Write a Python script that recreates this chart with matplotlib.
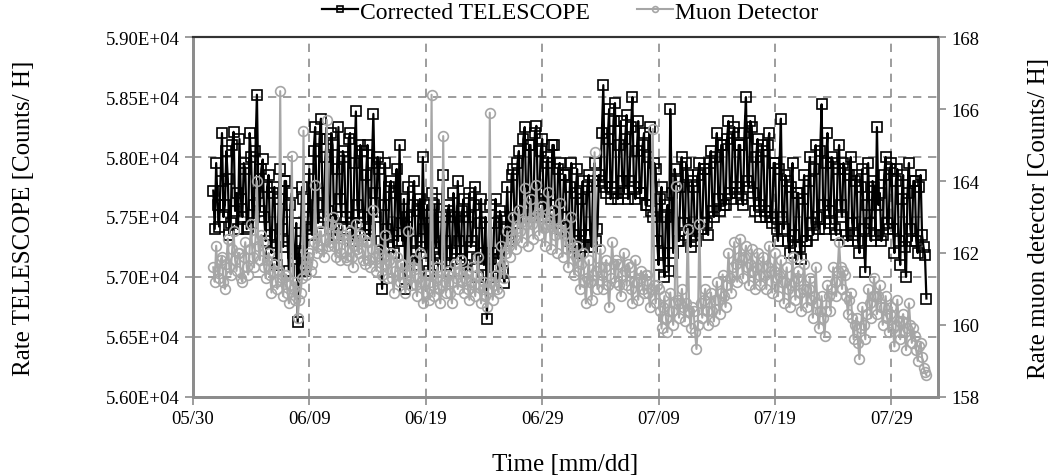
import matplotlib
matplotlib.use("Agg")
import matplotlib.pyplot as plt
import matplotlib.dates as mdates
import numpy as np
import pandas as pd

plt.rcParams['font.family'] = ['Liberation Serif', 'DejaVu Serif']

# samples every 3 h, from 05/31 18:00 to 08/01 00:00
t0 = "2014-05-31 18:00"
step = "3h"

# corrected telescope rate [counts/h], one row per day (00h ... 21h)
tel_may = [57720, 57400]
tel_jun = [
    57950, 57600, 57420, 57800, 58200, 57500, 57600, 58050,
    57820, 57350, 57450, 58100, 58210, 57550, 57700, 57400,
    58150, 57650, 57500, 57950, 57900, 57400, 57420, 58200,
    58000, 57450, 57600, 58050, 58520, 57700, 57550, 57900,
    57980, 57500, 57300, 57750, 57850, 57350, 57200, 57700,
    57750, 57250, 57100, 57650, 57900, 57400, 57250, 57800,
    57800, 57300, 57050, 57600, 57700, 57200, 57150, 57450,
    56620, 57200, 57300, 57750, 57650, 57050, 57100, 57500,
    57900, 57400, 57350, 58050, 58250, 57600, 57450, 58150,
    58320, 57700, 57500, 58000, 58150, 57550, 57400, 58200,
    58100, 57450, 57350, 57900, 58250, 57650, 57500, 58050,
    58000, 57500, 57400, 58150, 58200, 57450, 57300, 57950,
    58380, 57600, 57450, 58100, 58050, 57500, 57350, 57850,
    58100, 57350, 57400, 57950, 58360, 57700, 57500, 58000,
    57900, 57300, 56900, 57600, 57950, 57400, 57250, 57750,
    57800, 57350, 57200, 57700, 57900, 57300, 58100, 57450,
    57300, 57650, 56900, 57500, 57750, 57150, 57200, 57600,
    57800, 57300, 57100, 57550, 57650, 57250, 58000, 57400,
    57200, 57600, 57050, 57450, 57700, 57100, 57600, 57250,
    57650, 57200, 57150, 57500, 57850, 57300, 57100, 57550,
    57600, 57050, 57200, 57700, 57500, 57150, 57800, 57300,
    57150, 57550, 57650, 57100, 57050, 57500, 57700, 57250,
    57300, 57600, 57750, 57150, 57000, 57450, 57650, 57200,
    57100, 57500, 56650, 57200, 57600, 57150, 57000, 57450,
    57650, 57200, 57150, 57550, 57500, 57050, 56950, 57400,
    57750, 57300, 57350, 57850, 57900, 57500, 57450, 57950,
    58050, 57550, 57500, 58150, 58250, 57650, 57600, 58100,
    58100, 57500, 57550, 58200, 58260, 57700, 57650, 58050,
    58150, 57600, 57500, 57950, 58000, 57550, 57600, 58100,
    58100, 57550, 57450, 57900, 57950, 57400, 57500, 57850,
]
tel_jul = [
    57850, 57400, 57300, 57750, 57950, 57350, 57250, 57700,
    57900, 57300, 57200, 57650, 57800, 57250, 57350, 57750,
    57850, 57350, 57250, 57800, 57950, 57300, 57400, 57850,
    57800, 58200, 58600, 57750, 57700, 58150, 58400, 57650,
    57750, 58300, 58450, 57700, 57650, 58100, 58300, 57800,
    57700, 58150, 58350, 57650, 57800, 58250, 58500, 57750,
    57650, 58050, 58300, 57700, 57700, 58100, 58200, 57600,
    57600, 58000, 58250, 57550, 57500, 57950, 57900, 57300,
    57100, 57650, 57750, 57200, 57000, 57500, 57600, 57050,
    58400, 57700, 57200, 57900, 57800, 57300, 57300, 57750,
    58000, 57450, 57350, 57950, 57850, 57400, 57250, 57800,
    57750, 57350, 57300, 57850, 57950, 57400, 57400, 57900,
    57900, 57450, 57350, 57950, 58050, 57550, 57500, 58000,
    58200, 57650, 57550, 58100, 58100, 57600, 57600, 58150,
    58300, 57700, 57650, 58200, 58250, 57750, 57700, 58100,
    58100, 57650, 57600, 58200, 58500, 57800, 57750, 58300,
    58250, 57700, 57550, 58000, 58150, 57600, 57500, 58100,
    58050, 57550, 57500, 58100, 58200, 57500, 57450, 57950,
    57950, 57400, 57300, 57900, 58320, 57500, 57400, 57850,
    57800, 57300, 57200, 57750, 57950, 57350, 57250, 57700,
    57700, 57250, 57150, 57650, 57850, 57300, 57300, 57800,
    58000, 57450, 57350, 57900, 58100, 57500, 57400, 58050,
    58440, 57600, 57400, 57950, 58200, 57550, 57450, 58000,
    57950, 57400, 57350, 57900, 58100, 57600, 57500, 57950,
    57900, 57350, 57300, 57850, 58000, 57450, 57350, 57800,
    57850, 57300, 57200, 57750, 57900, 57400, 57040, 57600,
    57950, 57450, 57300, 57800, 57750, 57350, 58250, 57600,
    57700, 57300, 57350, 57850, 58000, 57450, 57400, 57900,
    57950, 57400, 57200, 57800, 57900, 57300, 57100, 57650,
    57850, 57250, 57000, 57700, 57950, 57400, 57300, 57800,
    57800, 57300, 57200, 57750, 57850, 57350, 57250, 57180,
]
tel_aug = [56820]

# muon detector rate [counts/h], same time steps
muon_may = [161.6, 161.2]
muon_jun = [
    162.2, 161.5, 161.3, 161.8, 161.9, 161.2, 161.0, 161.7,
    162.4, 161.6, 161.4, 162.1, 162.6, 161.8, 161.5, 162.0,
    162.0, 161.3, 161.2, 161.9, 162.3, 161.6, 161.4, 162.1,
    162.8, 161.9, 161.6, 162.4, 164.0, 162.2, 161.8, 162.5,
    162.3, 161.6, 161.3, 161.8, 162.0, 161.4, 160.9, 161.5,
    161.7, 161.2, 161.0, 161.5, 166.5, 161.3, 160.8, 161.4,
    161.4, 160.9, 160.6, 161.1, 164.7, 161.0, 160.7, 161.2,
    160.2, 160.7, 160.9, 161.3, 165.4, 161.6, 161.4, 161.9,
    162.0, 161.5, 161.7, 162.3, 163.9, 162.0, 162.2, 162.6,
    162.6, 162.1, 161.9, 162.4, 165.7, 162.2, 162.3, 162.8,
    163.0, 162.2, 161.9, 162.5, 162.7, 161.8, 162.0, 162.4,
    162.5, 161.9, 161.8, 162.3, 162.6, 161.9, 161.6, 162.2,
    162.8, 162.1, 162.0, 162.5, 162.4, 161.8, 161.7, 162.3,
    162.3, 161.8, 161.6, 162.1, 163.2, 161.9, 161.5, 162.0,
    162.1, 161.6, 161.4, 161.9, 162.5, 161.7, 161.3, 161.8,
    162.0, 161.3, 160.9, 161.5, 161.9, 161.4, 161.2, 161.7,
    161.7, 161.2, 160.9, 161.4, 162.6, 161.5, 161.1, 161.6,
    161.8, 161.1, 160.8, 161.3, 162.0, 161.2, 160.6, 161.2,
    161.4, 160.9, 160.7, 161.2, 166.4, 161.1, 160.8, 161.3,
    161.6, 161.0, 160.6, 161.1, 165.25, 161.2, 160.9, 161.4,
    161.5, 160.9, 160.6, 161.2, 161.7, 161.3, 161.0, 161.5,
    161.8, 161.2, 160.9, 161.3, 161.5, 161.0, 160.7, 161.2,
    161.6, 161.1, 160.8, 161.4, 161.9, 161.1, 160.6, 161.0,
    161.2, 160.8, 160.5, 161.0, 165.9, 161.2, 160.7, 161.1,
    161.4, 161.0, 160.9, 161.6, 162.2, 161.7, 161.3, 162.0,
    162.6, 162.2, 161.9, 162.5, 163.0, 162.4, 162.1, 162.7,
    163.2, 162.6, 162.3, 162.9, 163.8, 162.8, 162.2, 162.9,
    163.5, 162.8, 162.4, 163.0, 163.9, 163.1, 162.5, 163.0,
    163.3, 162.7, 162.2, 162.8, 163.7, 162.9, 162.1, 162.7,
    163.2, 162.5, 162.0, 162.7, 163.4, 162.6, 161.9, 162.5,
]
muon_jul = [
    162.8, 162.1, 161.6, 162.3, 163.0, 162.0, 161.4, 161.9,
    162.2, 161.5, 161.0, 161.7, 162.0, 161.2, 160.6, 161.3,
    161.8, 161.2, 160.7, 161.4, 164.8, 161.5, 161.0, 161.6,
    162.1, 161.4, 161.0, 161.6, 161.8, 161.1, 160.5, 161.3,
    162.3, 161.7, 161.2, 161.8, 161.7, 161.1, 160.8, 161.4,
    162.0, 161.5, 161.1, 161.7, 161.6, 161.0, 160.6, 161.2,
    161.8, 161.2, 160.7, 161.3, 161.5, 161.0, 160.9, 161.4,
    161.4, 160.9, 160.5, 161.0, 165.45, 161.1, 160.6, 161.1,
    161.0, 160.4, 159.9, 160.5, 160.8, 160.2, 159.8, 160.4,
    160.9, 160.4, 160.0, 160.6, 163.86, 160.7, 160.2, 160.6,
    161.0, 160.5, 160.1, 160.6, 162.67, 160.4, 159.9, 160.5,
    160.4, 159.8, 159.33, 160.0, 162.8, 160.6, 160.2, 160.7,
    161.0, 160.4, 160.0, 160.6, 160.9, 160.4, 160.1, 160.7,
    161.2, 160.7, 160.3, 160.9, 161.4, 160.8, 160.5, 161.1,
    162.0, 161.3, 160.9, 161.6, 162.3, 161.7, 161.2, 161.9,
    162.4, 161.8, 161.3, 161.9, 162.2, 161.6, 161.1, 161.7,
    162.1, 161.5, 161.0, 161.6, 162.0, 161.4, 161.1, 161.6,
    161.9, 161.4, 161.0, 161.6, 162.2, 161.5, 160.9, 161.5,
    162.0, 161.3, 160.8, 161.4, 161.8, 161.2, 160.6, 161.2,
    161.6, 161.0, 160.5, 161.1, 161.9, 161.2, 160.7, 161.3,
    161.5, 160.9, 160.4, 161.0, 161.7, 161.0, 160.5, 161.0,
    161.3, 160.7, 160.2, 160.8, 161.6, 160.6, 159.9, 160.4,
    160.8, 160.2, 159.7, 160.4, 161.1, 160.8, 160.4, 161.0,
    161.6, 161.2, 160.8, 161.5, 162.3, 161.6, 161.0, 161.5,
    161.4, 160.8, 160.3, 160.7, 160.9, 160.2, 159.6, 160.0,
    160.2, 159.5, 159.05, 159.9, 160.5, 160.0, 159.6, 160.3,
    161.0, 160.6, 160.2, 160.8, 161.3, 160.8, 160.3, 160.8,
    161.1, 160.5, 160.0, 160.5, 160.8, 160.2, 159.8, 160.3,
    160.5, 159.9, 159.4, 160.0, 160.7, 160.1, 159.6, 160.1,
    160.3, 159.8, 159.3, 159.9, 160.6, 160.0, 159.5, 159.9,
    159.7, 159.3, 159.0, 159.4, 159.5, 159.1, 158.8, 158.7,
]
muon_aug = [158.6]

telescope = np.array(tel_may + tel_jun + tel_jul + tel_aug, dtype=float)
muon = np.array(muon_may + muon_jun + muon_jul + muon_aug)
times = pd.date_range(t0, periods=len(telescope), freq=step)

date_ticks = pd.date_range("2014-05-30", periods=7, freq="10D")
grey = "#a6a6a6"
axis_grey = "#8c8c8c"

fig = plt.figure(figsize=(10.54, 4.77), dpi=100)
ax = fig.add_axes([0.183, 0.166, 0.707, 0.754])
ax2 = ax.twinx()

l1, = ax.plot(times, telescope, color="black", lw=1.6, marker="s", ms=6.5,
              mfc="none", mec="black", mew=1.2, label="Corrected TELESCOPE")
l2, = ax2.plot(times, muon, color=grey, lw=1.5, marker="o", ms=7,
               mfc="none", mec=grey, mew=1.2, label="Muon Detector")

ax.set_ylim(56000, 59000)
ax.set_yticks(np.arange(56000, 59001, 500))
ax.set_yticklabels([f"{v:.2E}" for v in np.arange(56000, 59001, 500)])
ax2.set_ylim(158, 168)
ax2.set_yticks(np.arange(158, 169, 2))

ax.set_xlim(pd.Timestamp("2014-05-30"), pd.Timestamp("2014-08-02"))
ax.set_xticks(date_ticks)
ax.xaxis.set_major_formatter(mdates.DateFormatter("%m/%d"))

ax.grid(True, ls=(0, (5, 4)), color=axis_grey, lw=1.2)
ax.set_axisbelow(True)

for a in (ax, ax2):
    for side in ("left", "right", "bottom"):
        a.spines[side].set_color(axis_grey)
        a.spines[side].set_linewidth(2)
    a.spines["top"].set_color("#333333")
    a.spines["top"].set_linewidth(1.5)
    a.tick_params(direction="out", length=6, color=axis_grey, width=1.2, labelsize=13.5)

ax.set_xlabel("Time [mm/dd]", fontsize=18)
ax.set_ylabel("Rate TELESCOPE [Counts/ H]", fontsize=18)
ax2.set_ylabel("Rate muon detector [Counts/ H]", fontsize=18)
ax.xaxis.set_label_coords(0.5, -0.155)
ax.yaxis.set_label_coords(-0.212, 0.5)
ax2.yaxis.set_label_coords(1.121, 0.5)

fig.legend([l1, l2], ["Corrected TELESCOPE", "Muon Detector"], loc="center",
           bbox_to_anchor=(0.541, 0.973), ncol=2, frameon=False, fontsize=17,
           handlelength=1.5, handletextpad=0.1, columnspacing=2.0, markerscale=0.6)

fig.savefig("out.png", dpi=100)
